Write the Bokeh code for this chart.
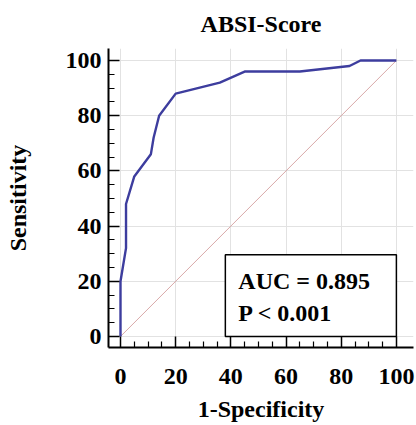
from bokeh.plotting import figure
from bokeh.models import FixedTicker, Range1d, BoxAnnotation, Label
from bokeh.embed import file_html
from bokeh.resources import INLINE

# ROC data (1-Specificity %, Sensitivity %)
fpr = [0, 0, 2, 2, 5, 11, 12, 14, 20, 36, 45, 65, 83, 87, 100]
tpr = [0, 20, 32, 48, 58, 66, 72, 80, 88, 92, 96, 96, 98, 100, 100]
ref_x = [0, 100]
ref_y = [0, 100]
major_ticks = [0, 20, 40, 60, 80, 100]
minor_ticks = [5, 10, 15, 25, 30, 35, 45, 50, 55, 65, 70, 75, 85, 90, 95]
auc_text = "AUC = 0.895"
p_text = "P < 0.001"
title_text = "ABSI-Score"

FONT = "Liberation Serif"

p = figure(width=416, height=425, output_backend="svg", toolbar_location=None,
           x_range=Range1d(-4.35, 106.2), y_range=Range1d(-4.0, 104.35),
           min_border_left=108, min_border_right=3, min_border_top=48,
           min_border_bottom=78, title=title_text)
p.outline_line_color = None
p.background_fill_color = "white"

p.title.align = "center"
p.title.vertical_align = "top"
p.title.text_font = FONT
p.title.text_font_style = "bold"
p.title.text_font_size = "24px"
p.title.text_color = "black"
p.title.standoff = 19

for ax in (p.xaxis[0], p.yaxis[0]):
    ax.ticker = FixedTicker(ticks=major_ticks, minor_ticks=minor_ticks)
    ax.axis_line_width = 2
    ax.axis_line_color = "black"
    ax.major_tick_in = 11
    ax.major_tick_out = 0
    ax.minor_tick_in = 6
    ax.minor_tick_out = 0
    ax.major_tick_line_width = 1.5
    ax.major_tick_line_color = "black"
    ax.minor_tick_line_width = 1.2
    ax.minor_tick_line_color = "black"
    ax.major_label_text_font = FONT
    ax.major_label_text_font_style = "bold"
    ax.major_label_text_font_size = "24px"
    ax.major_label_text_color = "black"
    ax.axis_label_text_font = FONT
    ax.axis_label_text_font_style = "bold"
    ax.axis_label_text_font_size = "24px"
    ax.axis_label_text_color = "black"

p.xaxis.axis_label = "1-Specificity"
p.yaxis.axis_label = "Sensitivity"
p.xaxis.major_label_standoff = 21
p.xaxis.axis_label_standoff = 9
p.yaxis.major_label_standoff = 7
p.yaxis.axis_label_standoff = 32

p.grid.grid_line_color = "#e2e2e2"
p.grid.grid_line_width = 1

p.line(ref_x, ref_y, line_color="#d9a9a9", line_width=1)
p.line(fpr, tpr, line_color="#3d3d9e", line_width=2.4)

box = BoxAnnotation(left=38, right=100, bottom=0, top=29.6,
                    fill_color="white", fill_alpha=1.0,
                    line_color="black", line_width=1.5, line_alpha=1.0)
p.add_layout(box)

for txt, yy in ((auc_text, 20.0), (p_text, 8.4)):
    p.add_layout(Label(x=42.7, y=yy, text=txt, text_font=FONT,
                       text_font_style="bold", text_font_size="24px",
                       text_color="black", text_baseline="alphabetic"))

open("out.html", "w").write(file_html(p, INLINE))
